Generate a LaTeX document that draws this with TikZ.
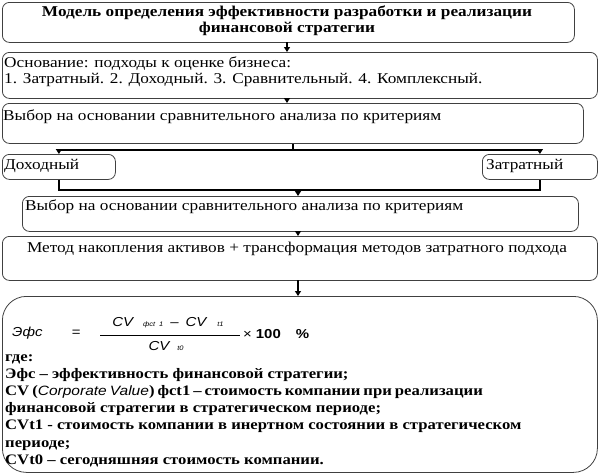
\documentclass[tikz,border=0pt]{standalone}
\usepackage{fontspec}
\setmainfont[FakeStretch=1.15]{Liberation Serif}
\newfontfamily\descfont[FakeStretch=1.15]{Liberation Serif}
\newfontfamily\formfont[FakeStretch=1.15]{Liberation Sans}
\newfontfamily\cvfont[FakeStretch=1.15]{Liberation Sans}
\usetikzlibrary{arrows.meta}
\begin{document}
\begin{tikzpicture}[x=1pt,y=-1pt,
 box/.style={draw=black!75, line width=0.8pt, rounded corners=7pt, inner sep=0pt, anchor=north west},
 conn/.style={line width=2pt},
 arr/.style={line width=2pt,-{Triangle[length=5pt,width=6pt]}},
 txt/.style={inner sep=0pt, font=\fontsize{15}{16}\selectfont, anchor=north west},
 ftxt/.style={inner sep=0pt, font=\formfont\itshape\fontsize{13}{15}\selectfont}]
\useasboundingbox (0,0) rectangle (600,474);
% boxes
\node[box, minimum width=572pt, minimum height=40pt] (b1) at (2,2) {};
\node[box, minimum width=595pt, minimum height=46pt] (b2) at (2,52) {};
\node[box, minimum width=581pt, minimum height=40pt] (b3) at (2,103) {};
\node[box, minimum width=113pt, minimum height=25pt] (dox) at (2,154) {};
\node[box, minimum width=115pt, minimum height=25pt] (zat) at (482,154) {};
\node[box, minimum width=556pt, minimum height=35pt] (b5) at (22,196) {};
\node[box, minimum width=595pt, minimum height=44pt] (b6) at (2,236) {};
\node[box, minimum width=595pt, minimum height=176pt, rounded corners=24pt] (b7) at (2,296) {};
% texts
\node[txt, anchor=north, align=center, font=\bfseries\fontsize{15}{16}\selectfont] (t1) at (287,6)
 {Модель определения эффективности разработки и реализации\\финансовой стратегии};
\node[txt, align=left] (t2) at (4,57)
 {Основание: подходы к оценке бизнеса:\\1. Затратный. 2. Доходный. 3. Сравнительный. 4. Комплексный.};
\node[txt] (t3) at (3,110) {Выбор на основании сравнительного анализа по критериям};
\node[txt] (tdox) at (4,159) {Доходный};
\node[txt] (tzat) at (486,159) {Затратный};
\node[txt] (t5) at (25,200) {Выбор на основании сравнительного анализа по критериям};
\node[txt, anchor=north] (t6) at (297,242) {Метод накопления активов + трансформация методов затратного подхода};
% formula
\node[ftxt, anchor=west] (fe) at (12,333) {Эфс};
\node[ftxt, anchor=center] (feq) at (76,333) {=};
\node[ftxt, anchor=center] (fnum) at (168,323) {CV\hspace{10pt}{\fontsize{6.5}{7}\selectfont фсt\hspace{4pt}1}\hspace{7pt}–\hspace{7pt}CV\hspace{11pt}{\fontsize{6.5}{7}\selectfont t1}};
\node[ftxt, anchor=center] (fden) at (166,346) {CV\hspace{8pt}{\fontsize{6.5}{7}\selectfont t0}};
\coordinate (fl1) at (100,335);
\coordinate (fl2) at (240,335);
\draw[line width=0.6pt] (fl1) -- (fl2);
\node[inner sep=0pt, anchor=west, font=\formfont\fontsize{13}{15}\selectfont] (f100) at (243,334) {×\hspace{4pt}\textbf{100}\hspace{15pt}\textbf{\%}};
\node[inner sep=0pt, anchor=north west, align=left, font=\descfont\bfseries\fontsize{14.5}{17.2}\selectfont] (desc) at (5,354)
 {где:\\
 Эфс – эффективность финансовой стратегии;\\
 {\spaceskip=3pt plus 1pt CV ({\cvfont\mdseries\itshape\fontsize{13.5}{17.2}\selectfont Corporate Value}) фсt1 – стоимость компании при реализации}\\
 финансовой стратегии в стратегическом периоде;\\
 CVt1 - стоимость компании в инертном состоянии в стратегическом\\
 периоде;\\
 CVt0 – сегодняшняя стоимость компании.};
% connectors
\coordinate (a1) at (287,42);
\coordinate (a2) at (287,52);
\draw[arr] (a1) -- (a2);
\coordinate (a3) at (287,98);
\coordinate (a4) at (287,103);
\draw[arr] (a3) -- (a4);
\coordinate (split) at (b3.south |- 0,150);
\coordinate (sl) at (dox.north |- 0,150);
\coordinate (sr) at (zat.north |- 0,150);
\draw[conn] (b3.south) -- (split);
\draw[conn] (sl) -- (sr);
\draw[arr] (sl) -- (dox.north);
\draw[arr] (sr) -- (zat.north);
\coordinate (jl) at (dox.south |- 0,190);
\coordinate (jr) at (zat.south |- 0,190);
\coordinate (jm) at (298,190);
\draw[conn] (dox.south) -- (jl) -- (jr) -- (zat.south);
\draw[arr] (jm) -- (jm |- b5.north);
\coordinate (a5) at (298,231);
\draw[arr] (a5) -- (a5 |- b6.north);
\coordinate (a6) at (298,280);
\draw[arr] (a6) -- (a6 |- b7.north);
\end{tikzpicture}
\end{document}
